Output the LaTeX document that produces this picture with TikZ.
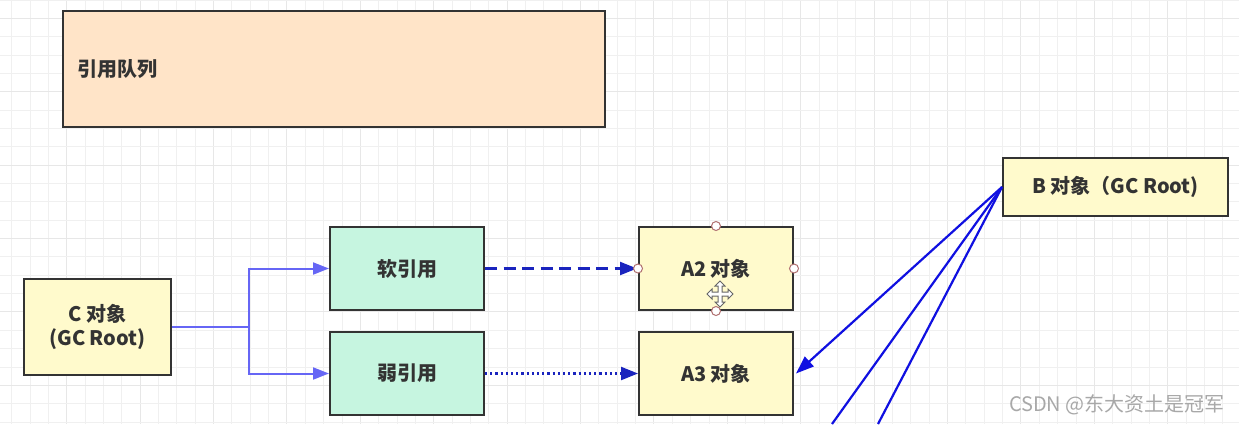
\documentclass[tikz,border=0pt]{standalone}
\usepackage{fontspec}
\setmainfont{Noto Sans CJK SC}
\usetikzlibrary{arrows.meta}
\definecolor{gridminor}{RGB}{240,240,240}
\definecolor{gridmajor}{RGB}{231,231,231}
\definecolor{peach}{RGB}{255,228,200}
\definecolor{lyellow}{RGB}{255,250,204}
\definecolor{mint}{RGB}{198,245,224}
\definecolor{boxline}{RGB}{51,51,51}
\definecolor{txt}{RGB}{51,51,51}
\definecolor{lightlink}{RGB}{102,102,245}
\definecolor{linkblue}{RGB}{16,16,225}
\definecolor{navylink}{RGB}{26,36,190}
\definecolor{handlecol}{RGB}{176,112,112}
\definecolor{wmark}{RGB}{168,168,168}
\begin{document}
\begin{tikzpicture}[x=1pt,y=-1pt,
  box/.style={draw=boxline, line width=2pt, text=txt, inner sep=0pt,
    font=\fontsize{20}{24}\selectfont\bfseries, align=center},
  clink/.style={draw=lightlink, line width=2pt},
  ctip/.style={-{Triangle[length=16pt,width=12pt]}},
  btip/.style={-{Triangle[length=18pt,width=13pt]}},
  blink/.style={draw=linkblue, line width=2.2pt},
  handle/.style={draw=handlecol, fill=white, line width=1pt}]
\useasboundingbox (0,0) rectangle (1239,424);
\fill[white] (0,0) rectangle (1239,424);
% grid
\foreach \k in {0,...,66}{
  \pgfmathsetmacro{\xx}{11.7+18.35*\k}
  \pgfmathtruncatemacro{\mm}{mod(\k,4)}
  \ifnum\mm=3
    \draw[gridmajor, line width=1pt] (\xx,0) -- (\xx,424);
  \else
    \draw[gridminor, line width=1pt] (\xx,0) -- (\xx,424);
  \fi
}
\foreach \k in {0,...,23}{
  \pgfmathsetmacro{\yy}{18.35*\k}
  \pgfmathtruncatemacro{\mm}{mod(\k,4)}
  \ifnum\mm=1
    \draw[gridmajor, line width=1pt] (0,\yy) -- (1239,\yy);
  \else
    \draw[gridminor, line width=1pt] (0,\yy) -- (1239,\yy);
  \fi
}
% boxes
\node[box, fill=peach, minimum height=116pt, text width=514pt, inner xsep=14pt, align=left] (queue) at (334,69) {引用队列};
\node[box, fill=lyellow, minimum width=225pt, minimum height=58pt] (B) at (1115.5,187) {B 对象（GC Root)};
\node[box, fill=lyellow, minimum width=147pt, minimum height=96pt] (C) at (97.5,327) {C 对象\\(GC Root)};
\node[box, fill=mint, minimum width=154pt, minimum height=83pt] (soft) at (407,268.5) {软引用};
\node[box, fill=mint, minimum width=154pt, minimum height=83pt] (weak) at (407,373.5) {弱引用};
\node[box, fill=lyellow, minimum width=154pt, minimum height=83pt] (A2) at (716,268.5) {A2 对象};
\node[box, fill=lyellow, minimum width=154pt, minimum height=83pt] (A3) at (716,373.5) {A3 对象};
% connectors from C
\coordinate (split) at (249,327);
\draw[clink] (C.east) -- (split);
\draw[clink, ctip] (split) |- (soft.west);
\draw[clink, ctip] (split) |- (weak.west);
% soft / weak references
\draw[draw=navylink, line width=2.2pt, dash pattern=on 12pt off 6.5pt, -{Triangle[length=17pt,width=13pt]}, shorten >=1pt] (soft.east) -- (A2.west);
\draw[draw=navylink, line width=2.2pt, dash pattern=on 2.2pt off 3pt, -{Triangle[length=17pt,width=13pt]}] (weak.east) -- (A3.west);
% from B
\coordinate (o1) at (832,424);
\coordinate (o2) at (878,424);
\draw[blink, btip] (B.west) -- ([xshift=2pt]A3.east);
\draw[blink] (B.west) -- (o1);
\draw[blink] (B.west) -- (o2);
% selection handles on A2
\foreach \a in {north,south,east,west}{
  \draw[handle] (A2.\a) circle (4.5pt);
}
% move cursor
\begin{scope}[shift={(720,294)}]
\draw[fill=white, draw=black!60, line width=1pt, line join=miter]
 (0,-13) -- (5,-8) -- (2,-8) -- (2,-2) -- (8,-2) -- (8,-5) -- (13,0) -- (8,5) -- (8,2)
 -- (2,2) -- (2,8) -- (5,8) -- (0,13) -- (-5,8) -- (-2,8) -- (-2,2) -- (-8,2) -- (-8,5)
 -- (-13,0) -- (-8,-5) -- (-8,-2) -- (-2,-2) -- (-2,-8) -- (-5,-8) -- cycle;
\end{scope}
% watermark
\node[anchor=east, text=wmark, inner sep=0pt, font=\fontsize{20}{24}\selectfont] (wm) at (1225,405) {CSDN @东大资土是冠军};
\end{tikzpicture}
\end{document}
